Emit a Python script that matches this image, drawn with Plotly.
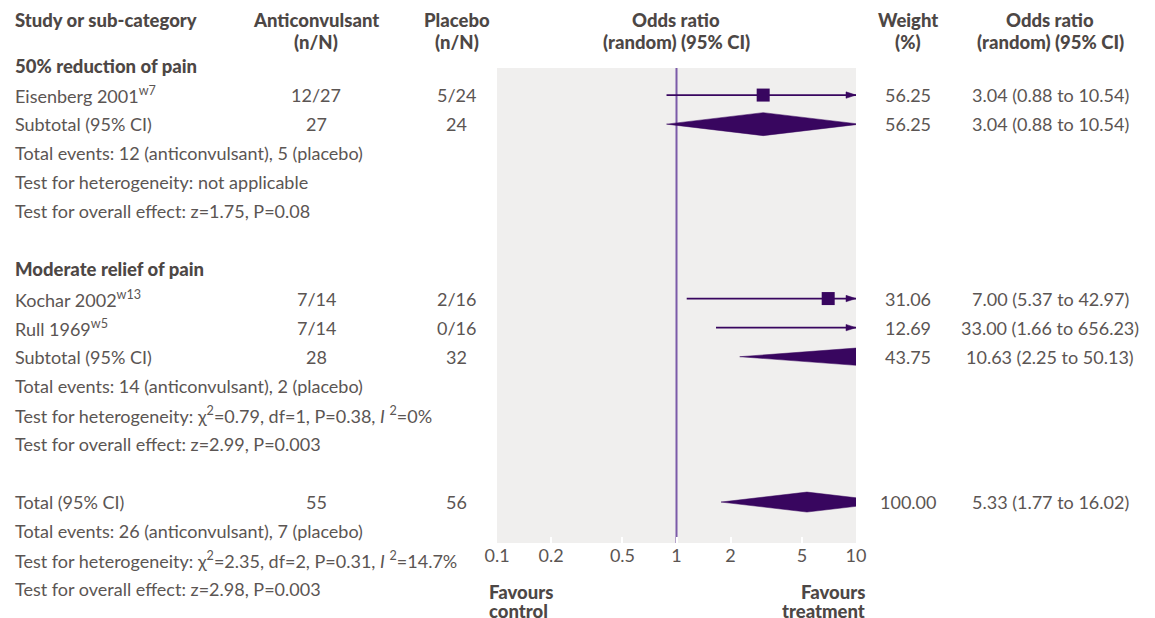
import math
import plotly.graph_objects as go

# ---------------- data ----------------
header_col1 = "Study or sub-category"
group_titles = ["50% reduction of pain", "Moderate relief of pain"]
group_title_rows = [0, 7]

study_names = ["Eisenberg 2001<sup>w7</sup>", "Kochar 2002<sup>w13</sup>", "Rull 1969<sup>w5</sup>"]
study_rows = [1, 8, 9]
study_treat = ["12/27", "7/14", "7/14"]
study_ctrl = ["5/24", "2/16", "0/16"]
study_weight = ["56.25", "31.06", "12.69"]
study_or_text = ["3.04 (0.88 to 10.54)", "7.00 (5.37 to 42.97)", "33.00 (1.66 to 656.23)"]
study_or = [3.04, 7.00, 33.00]
study_ci_low = [0.88, 1.14, 1.66]      # as drawn in the figure
study_ci_high = [10.54, 42.97, 656.23]

pooled_names = ["Subtotal (95% CI)", "Subtotal (95% CI)", "Total (95% CI)"]
pooled_rows = [2, 10, 15]
pooled_treat = ["27", "28", "55"]
pooled_ctrl = ["24", "32", "56"]
pooled_weight = ["56.25", "43.75", "100.00"]
pooled_or_text = ["3.04 (0.88 to 10.54)", "10.63 (2.25 to 50.13)", "5.33 (1.77 to 16.02)"]
pooled_or = [3.04, 10.63, 5.33]
pooled_ci_low = [0.88, 2.25, 1.77]
pooled_ci_high = [10.54, 50.13, 16.02]

note_rows = [3, 4, 5, 11, 12, 13, 16, 17, 18]
note_texts = [
    "Total events: 12 (anticonvulsant), 5 (placebo)",
    "Test for heterogeneity: not applicable",
    "Test for overall effect: z=1.75, P=0.08",
    "Total events: 14 (anticonvulsant), 2 (placebo)",
    "Test for heterogeneity: χ<sup>2</sup>=0.79, df=1, P=0.38, <i>I</i> <sup>2</sup>=0%",
    "Test for overall effect: z=2.99, P=0.003",
    "Total events: 26 (anticonvulsant), 7 (placebo)",
    "Test for heterogeneity: χ<sup>2</sup>=2.35, df=2, P=0.31, <i>I</i> <sup>2</sup>=14.7%",
    "Test for overall effect: z=2.98, P=0.003",
]

tick_vals = [0.1, 0.2, 0.5, 1, 2, 5, 10]
tick_text = ["0.1", "0.2", "0.5", "1", "2", "5", "10"]
x_min, x_max = 0.1, 10
null_value = 1

# ---------------- layout constants (reference pixel positions) ----------------
OFF = 8                      # page body margin
W, H = 1155 - OFF, 618 - OFF
ROW0_PX, ROW_PX = 66, 29.07
PLOT_L, PLOT_R = 497, 856
PANEL_TOP, PANEL_BOT = 68, 543
COL1_X, COL2_X, COL3_X, COL4_X, COL5_X, COL6_X = 13, 316, 457, 676, 908, 1050
PX_PER_DEC = (PLOT_R - PLOT_L) / 2.0

DARK = "#38065f"
NULL_LINE = "#7b5aa8"
TEXT = "#5b5553"
HEAD = "#4d4745"
PANEL = "#f0efee"
FONT = "Lato"
FS = 18
FS_HEAD = 18.5


def px2row(p):
    return (p - ROW0_PX) / ROW_PX


def px2paper_x(p):
    return (p - OFF) / W


def px2paper_y(p):
    return 1 - (p - OFF) / H


fig = go.Figure()

# null line
fig.add_trace(go.Scatter(x=[null_value, null_value], y=[px2row(PANEL_TOP), px2row(PANEL_BOT)],
                         mode="lines", line=dict(color=NULL_LINE, width=2), hoverinfo="skip"))

# study CI lines + arrows + squares
for r, o, lo, hi in zip(study_rows, study_or, study_ci_low, study_ci_high):
    fig.add_trace(go.Scatter(x=[lo, min(hi, x_max)], y=[r, r], mode="lines",
                             line=dict(color=DARK, width=1.8), hoverinfo="skip"))
    if hi > x_max:
        base = 10 ** (math.log10(x_max) - 10 / PX_PER_DEC)
        hh = 3.2 / ROW_PX
        fig.add_trace(go.Scatter(x=[base, x_max, base, base], y=[r - hh, r, r + hh, r - hh],
                                 mode="lines", fill="toself", fillcolor=DARK,
                                 line=dict(color=DARK, width=0.5), hoverinfo="skip"))
fig.add_trace(go.Scatter(x=study_or, y=study_rows, mode="markers",
                         marker=dict(symbol="square", size=13, color=DARK), hoverinfo="skip"))

# pooled diamonds
diamond_half_px = [11.5, 9, 10]
for r, o, lo, hi, hp in zip(pooled_rows, pooled_or, pooled_ci_low, pooled_ci_high, diamond_half_px):
    h = hp / ROW_PX
    fig.add_trace(go.Scatter(x=[lo, o, hi, o, lo], y=[r, r - h, r, r + h, r], mode="lines",
                             fill="toself", fillcolor=DARK, line=dict(color=DARK, width=0.5),
                             hoverinfo="skip"))

ann = []


def add(x, row, text, anchor="left", bold=False):
    ann.append(dict(x=px2paper_x(x), xref="paper", y=row, yref="y", text=text, showarrow=False,
                    xanchor=anchor, yanchor="middle",
                    font=dict(family=FONT, size=FS_HEAD if bold else FS,
                              color=HEAD if bold else TEXT,
                              weight=900 if bold else 400)))


# headers
h1, h2 = px2row(20), px2row(42)
add(COL1_X, h1, header_col1, bold=True)
add(COL2_X, h1, "Anticonvulsant", "center", True)
add(COL2_X, h2, "(n/N)", "center", True)
add(COL3_X, h1, "Placebo", "center", True)
add(COL3_X, h2, "(n/N)", "center", True)
add(COL4_X, h1, "Odds ratio", "center", True)
add(COL4_X, h2, "(random) (95% CI)", "center", True)
add(COL5_X, h1, "Weight", "center", True)
add(COL5_X, h2, "(%)", "center", True)
add(COL6_X, h1, "Odds ratio", "center", True)
add(COL6_X, h2, "(random) (95% CI)", "center", True)

for t, r in zip(group_titles, group_title_rows):
    add(COL1_X, r, t, bold=True)

for i, r in enumerate(study_rows):
    add(COL1_X, r, study_names[i])
    add(COL2_X, r, study_treat[i], "center")
    add(COL3_X, r, study_ctrl[i], "center")
    add(COL5_X, r, study_weight[i], "center")
    add(COL6_X, r, study_or_text[i], "center")

for i, r in enumerate(pooled_rows):
    add(COL1_X, r, pooled_names[i])
    add(COL2_X, r, pooled_treat[i], "center")
    add(COL3_X, r, pooled_ctrl[i], "center")
    add(COL5_X, r, pooled_weight[i], "center")
    add(COL6_X, r, pooled_or_text[i], "center")

for t, r in zip(note_texts, note_rows):
    add(COL1_X, r, t)

add(487, px2row(592), "Favours", "left", True)
add(487, px2row(611), "control", "left", True)
add(867, px2row(592), "Favours", "right", True)
add(867, px2row(611), "treatment", "right", True)

fig.update_layout(
    width=W, height=H, autosize=False,
    margin=dict(l=0, r=0, t=0, b=0, pad=0, autoexpand=False),
    paper_bgcolor="white", plot_bgcolor="white", showlegend=False,
    annotations=ann,
    shapes=[dict(type="rect", xref="x domain", x0=0, x1=1, yref="y",
                 y0=px2row(PANEL_TOP), y1=px2row(PANEL_BOT), fillcolor=PANEL,
                 line=dict(width=0), layer="below")],
    xaxis=dict(type="log", range=[math.log10(x_min), math.log10(x_max)],
               domain=[px2paper_x(PLOT_L), px2paper_x(PLOT_R)], anchor="free",
               position=px2paper_y(PANEL_BOT), automargin=False,
               tickvals=tick_vals, ticktext=tick_text, ticks="inside", ticklen=6,
               tickwidth=2, tickcolor="white", showgrid=False, zeroline=False,
               showline=False, tickfont=dict(family=FONT, size=FS, color=TEXT), fixedrange=True),
    yaxis=dict(range=[px2row(618), px2row(OFF)], domain=[0, 1], visible=False,
               automargin=False, fixedrange=True),
)

fig.write_html("out.html")
